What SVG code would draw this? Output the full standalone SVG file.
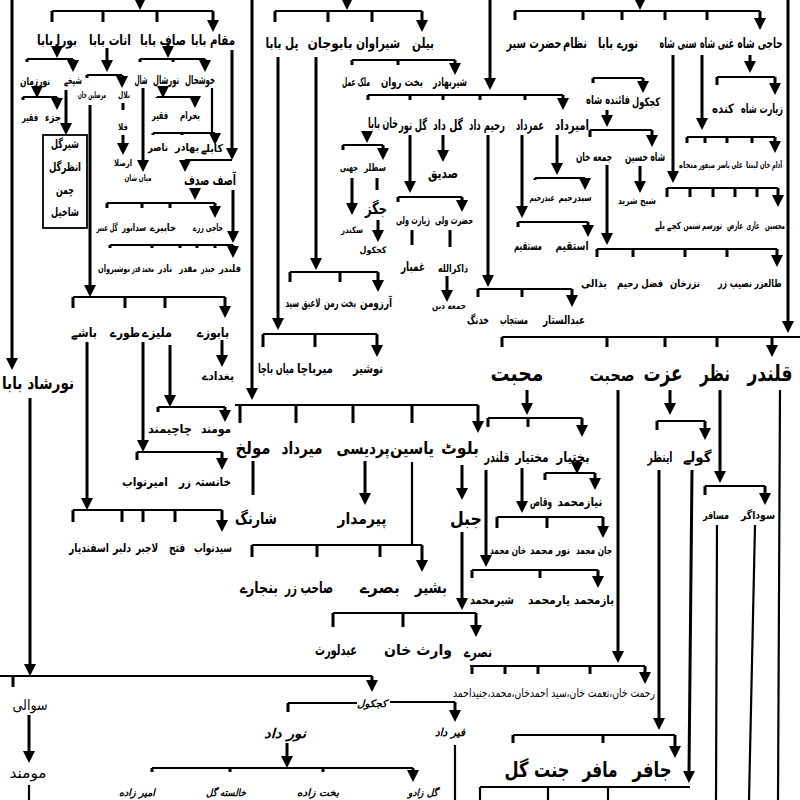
<svg xmlns="http://www.w3.org/2000/svg" width="800" height="800" viewBox="0 0 800 800">
<style>
.a{stroke:#000;stroke-width:3;fill:none;marker-end:url(#ah)}
.l{stroke:#000;stroke-width:2.2;fill:none}
.b{fill:none;stroke:#000;stroke-width:1.8}
text{font-family:"DejaVu Sans",sans-serif;font-weight:bold;text-anchor:middle;dominant-baseline:central;fill:#000}
.s9{font-size:9px}.s10{font-size:10px}.s11{font-size:11px}.s12{font-size:12px}.s13{font-size:13px}.s14{font-size:14px}.s15{font-size:15px}.s16{font-size:16px}.s17{font-size:17px}.s19{font-size:19px}.s21{font-size:21px}.s22{font-size:22px}
.n{font-weight:normal}.i{font-style:italic}
</style>
<defs>
<marker id="ah" viewBox="0 0 12 12" refX="2" refY="6" markerWidth="12" markerHeight="12" markerUnits="userSpaceOnUse" orient="auto"><path d="M0,0 L12,6 L0,12 z" fill="#000"/></marker>
</defs>
<rect width="800" height="800" fill="#fff"/>
<g id="connectors">
<path class="a" d="M140,-6 V0"/>
<path class="l" d="M52,11 H213"/>
<path class="a" d="M52,11 V22 M103,11 V22 M157,11 V22 M213,11 V22"/>
<path class="a" d="M12,0 V360"/>
<path class="a" d="M57,44 V48"/>
<path class="l" d="M27,59 H73"/>
<path class="a" d="M27,59 V62 M73,59 V62"/>
<path class="a" d="M37,86 V88"/>
<path class="l" d="M23,97 H57"/>
<path class="a" d="M23,97 V100 M57,97 V100"/>
<path class="a" d="M66,90 V125"/>
<path class="a" d="M107,48 V62"/>
<path class="l" d="M87,75 H122"/>
<path class="a" d="M87,75 V78 M122,75 V78"/>
<path class="a" d="M90,105 V287"/>
<path class="a" d="M123,103 V110 M123,135 V145"/>
<path class="a" d="M168,44 V48"/>
<path class="l" d="M140,59 H205"/>
<path class="a" d="M140,59 V62 M173,59 V62 M205,59 V62"/>
<path class="a" d="M143,88 V162"/>
<path class="a" d="M163,86 V88"/>
<path class="l" d="M157,97 H195"/>
<path class="a" d="M157,97 V98 M195,97 V98"/>
<path class="l" d="M212,88 V133 M153,133 H215"/>
<path class="a" d="M153,133 V135 M182,133 V135 M215,133 V135"/>
<path class="l" d="M185,160 H232"/>
<path class="a" d="M185,160 V162"/>
<path class="a" d="M232,50 V150"/>
<path class="a" d="M195,188 V190"/>
<path class="l" d="M107,203 H215"/>
<path class="a" d="M107,203 V208 M142,203 V208 M170,203 V208 M215,203 V208"/>
<path class="a" d="M233,190 V233"/>
<path class="l" d="M110,245 H233"/>
<path class="a" d="M110,245 V248 M152,245 V248 M180,245 V248 M197,245 V248 M215,245 V248 M233,245 V248"/>
<path class="l" d="M73,297 H225"/>
<path class="a" d="M73,297 V308 M125,297 V308 M165,297 V308 M225,297 V308"/>
<path class="a" d="M222,340 V357"/>
<path class="a" d="M170,345 V397"/>
<path class="l" d="M158,407 H225"/>
<path class="a" d="M158,407 V412 M225,407 V412"/>
<path class="a" d="M143,342 V442"/>
<path class="l" d="M137,452 H222"/>
<path class="a" d="M137,452 V460 M222,452 V460"/>
<path class="a" d="M87,342 V500"/>
<path class="l" d="M73,510 H222"/>
<path class="a" d="M73,510 V522 M122,510 V522 M143,510 V522 M175,510 V522 M222,510 V522"/>
<path class="a" d="M30,398 V666"/>
<path class="l" d="M0,676 H372"/>
<path class="a" d="M13,676 V687 M29,715 V753"/>
<path class="l" d="M29,785 V800"/>
<path class="a" d="M372,676 V682"/>
<path class="l" d="M288,703 H357 M390,702 H455"/>
<path class="a" d="M288,703 V712 M455,702 V712"/>
<path class="a" d="M287,743 V758"/>
<path class="l" d="M152,768 H413"/>
<path class="a" d="M152,768 V772 M230,768 V772 M323,768 V772 M413,768 V772"/>
<path class="l" d="M455,745 V800"/>
<path class="a" d="M347,-6 V0"/>
<path class="l" d="M275,11 H422"/>
<path class="a" d="M275,11 V22 M328,11 V22 M372,11 V22 M422,11 V22"/>
<path class="a" d="M252,0 V390"/>
<path class="a" d="M278,57 V320"/>
<path class="l" d="M263,334 H377"/>
<path class="a" d="M263,334 V347 M315,334 V347 M377,334 V347"/>
<path class="a" d="M316,57 V260"/>
<path class="l" d="M290,272 H378"/>
<path class="a" d="M290,272 V282 M340,272 V282 M378,272 V282"/>
<path class="l" d="M352,60 H455"/>
<path class="a" d="M352,60 V65 M398,60 V65 M455,60 V65"/>
<path class="a" d="M490,0 V80"/>
<path class="l" d="M368,95 H563"/>
<path class="a" d="M368,95 V100 M410,95 V100 M443,95 V100 M480,95 V100 M525,95 V100 M563,95 V100"/>
<path class="a" d="M367,131 V133"/>
<path class="l" d="M343,145 H383"/>
<path class="a" d="M343,145 V150 M383,145 V150"/>
<path class="a" d="M352,178 V205"/>
<path class="a" d="M377,178 V190 M378,220 V232"/>
<path class="a" d="M410,135 V183"/>
<path class="l" d="M398,197 H462"/>
<path class="a" d="M398,197 V202 M462,197 V202"/>
<path class="a" d="M412,230 V245 M450,230 V247 M447,276 V292"/>
<path class="a" d="M443,135 V152"/>
<path class="a" d="M488,135 V277"/>
<path class="l" d="M478,289 H572"/>
<path class="a" d="M478,289 V297 M522,289 V297 M572,289 V297"/>
<path class="a" d="M522,135 V208"/>
<path class="l" d="M518,222 H588"/>
<path class="a" d="M518,222 V227 M588,222 V227"/>
<path class="a" d="M557,135 V165"/>
<path class="l" d="M535,178 H585"/>
<path class="a" d="M535,178 V180 M585,178 V180"/>
<path class="a" d="M640,-6 V0"/>
<path class="l" d="M515,11 H760"/>
<path class="a" d="M515,11 V20 M583,11 V20 M622,11 V20 M665,11 V20 M707,11 V20 M760,11 V20"/>
<path class="l" d="M593,78 H643"/>
<path class="a" d="M593,78 V83 M643,78 V83"/>
<path class="a" d="M607,110 V117"/>
<path class="l" d="M590,130 H652"/>
<path class="a" d="M590,130 V137 M652,130 V137"/>
<path class="a" d="M640,166 V183"/>
<path class="a" d="M607,165 V235"/>
<path class="l" d="M597,249 H777"/>
<path class="a" d="M597,249 V257 M633,249 V257 M685,249 V257 M727,249 V257 M777,249 V257"/>
<path class="a" d="M673,55 V173"/>
<path class="l" d="M667,188 H778"/>
<path class="a" d="M667,188 V197 M690,188 V197 M713,188 V197 M735,188 V197 M757,188 V197 M778,188 V197"/>
<path class="a" d="M702,55 V120"/>
<path class="l" d="M687,137 H775"/>
<path class="a" d="M687,137 V143 M705,137 V143 M727,137 V143 M752,137 V143 M775,137 V143"/>
<path class="a" d="M750,55 V63"/>
<path class="l" d="M717,77 H775"/>
<path class="a" d="M717,77 V85 M775,77 V85"/>
<path class="a" d="M788,0 V323"/>
<path class="l" d="M502,337 H800"/>
<path class="a" d="M502,337 V347 M607,337 V347 M665,337 V347 M717,337 V347 M772,337 V347"/>
<path class="a" d="M527,390 V405"/>
<path class="l" d="M488,418 H582"/>
<path class="a" d="M488,418 V427 M528,418 V427 M582,418 V427"/>
<path class="l" d="M235,405 H478"/>
<path class="a" d="M240,405 V423 M296,405 V423 M353,405 V423 M412,405 V423 M478,405 V423"/>
<path class="a" d="M253,461 V495 M365,461 V495"/>
<path class="l" d="M412,462 V545 M252,545 H422"/>
<path class="a" d="M252,545 V557 M317,545 V557 M380,545 V557 M422,545 V562"/>
<path class="a" d="M462,465 V490"/>
<path class="a" d="M462,532 V600"/>
<path class="l" d="M333,613 H476"/>
<path class="a" d="M333,613 V627 M403,613 V627 M476,613 V627"/>
<path class="a" d="M486,470 V557"/>
<path class="l" d="M472,570 H598"/>
<path class="a" d="M472,570 V578 M540,570 V578 M598,570 V578"/>
<path class="a" d="M522,468 V503"/>
<path class="l" d="M497,517 H603"/>
<path class="a" d="M497,517 V528 M547,517 V528 M603,517 V528"/>
<path class="a" d="M577,462 V464"/>
<path class="l" d="M545,473 H595"/>
<path class="a" d="M545,473 V480 M595,473 V480"/>
<path class="a" d="M618,390 V653"/>
<path class="l" d="M470,666 H645"/>
<path class="a" d="M472,666 V674 M505,666 V674 M538,666 V674 M590,666 V674 M645,666 V674"/>
<path class="a" d="M670,390 V405"/>
<path class="l" d="M657,421 H705"/>
<path class="a" d="M657,421 V430 M705,421 V430"/>
<path class="a" d="M659,470 V720"/>
<path class="l" d="M513,735 H675"/>
<path class="a" d="M513,735 V743 M603,735 V743 M675,735 V748"/>
<path class="a" d="M692,470 L689,773"/>
<path class="l" d="M480,787 H690 M480,787 V800 M548,787 V800 M608,787 V800"/>
<path class="a" d="M720,390 V473"/>
<path class="l" d="M705,486 H765"/>
<path class="a" d="M705,486 V495 M765,486 V495"/>
<path class="l" d="M717,525 L716,800 M755,525 L749,800 M780,390 L778,800"/>
</g>
<g id="n-bora-baba"><text class="s14" x="57" y="40" textLength="40" lengthAdjust="spacingAndGlyphs">بورا بابا</text></g>
<g id="n-anat-baba"><text class="s14" x="110" y="40" textLength="42" lengthAdjust="spacingAndGlyphs">انات بابا</text></g>
<g id="n-saf-baba"><text class="s14" x="163" y="40" textLength="46" lengthAdjust="spacingAndGlyphs">صاف بابا</text></g>
<g id="n-maqam-baba"><text class="s14" x="213" y="40" textLength="44" lengthAdjust="spacingAndGlyphs">مقام بابا</text></g>
<g id="n-noorzaman"><text class="s11" x="35" y="81" textLength="30" lengthAdjust="spacingAndGlyphs">نورزمان</text></g>
<g id="n-shaikhe"><text class="s11" x="73" y="80" textLength="18" lengthAdjust="spacingAndGlyphs">شیخے</text></g>
<g id="n-faqir1"><text class="s11" x="30" y="117" textLength="16" lengthAdjust="spacingAndGlyphs">فقیر</text></g>
<g id="n-jaza"><text class="s11" x="53" y="117" textLength="16" lengthAdjust="spacingAndGlyphs">جزء</text></g>
<g id="n-box"><rect class="b" x="43" y="135" width="44" height="93"/><text class="s12" x="65" y="144" textLength="28" lengthAdjust="spacingAndGlyphs">شیرگل</text><text class="s12" x="65" y="167" textLength="32" lengthAdjust="spacingAndGlyphs">انظرگل</text><text class="s12" x="65" y="190" textLength="18" lengthAdjust="spacingAndGlyphs">چمن</text><text class="s12" x="65" y="212" textLength="28" lengthAdjust="spacingAndGlyphs">شاخیل</text></g>
<g id="n-mursalin"><text class="s9" x="92" y="95" textLength="28" lengthAdjust="spacingAndGlyphs">مرسلین خان</text></g>
<g id="n-bilal"><text class="s9" x="124" y="95" textLength="12" lengthAdjust="spacingAndGlyphs">بلال</text></g>
<g id="n-qala"><text class="s9" x="123" y="127" textLength="10" lengthAdjust="spacingAndGlyphs">قلا</text></g>
<g id="n-arsala"><text class="s9" x="123" y="163" textLength="18" lengthAdjust="spacingAndGlyphs">ارصلا</text></g>
<g id="n-shal"><text class="s12" x="141" y="80" textLength="13" lengthAdjust="spacingAndGlyphs">شال</text></g>
<g id="n-noorshal"><text class="s12" x="166" y="80" textLength="26" lengthAdjust="spacingAndGlyphs">نورشال</text></g>
<g id="n-khushal"><text class="s12" x="200" y="80" textLength="30" lengthAdjust="spacingAndGlyphs">خوشحال</text></g>
<g id="n-mianshan"><text class="s9" x="138" y="178" textLength="27" lengthAdjust="spacingAndGlyphs">میاں شان</text></g>
<g id="n-faqir2"><text class="s11" x="160" y="115" textLength="16" lengthAdjust="spacingAndGlyphs">فقیر</text></g>
<g id="n-bahram"><text class="s11" x="190" y="115" textLength="20" lengthAdjust="spacingAndGlyphs">بحرام</text></g>
<g id="n-nasir"><text class="s11" x="158" y="147" textLength="20" lengthAdjust="spacingAndGlyphs">ناصر</text></g>
<g id="n-bahadur"><text class="s11" x="187" y="147" textLength="24" lengthAdjust="spacingAndGlyphs">بهادر</text></g>
<g id="n-kable"><text class="s11" x="212" y="148" textLength="22" lengthAdjust="spacingAndGlyphs">کابلے</text></g>
<g id="n-asif"><text class="s14" x="210" y="180" textLength="52" lengthAdjust="spacingAndGlyphs">آصف صدف</text></g>
<g id="n-gulanbar"><text class="s10" x="107" y="227" textLength="21" lengthAdjust="spacingAndGlyphs">گل عنبر</text></g>
<g id="n-sadatoor"><text class="s10" x="134" y="227" textLength="24" lengthAdjust="spacingAndGlyphs">سداتور</text></g>
<g id="n-khapire"><text class="s10" x="163" y="227" textLength="26" lengthAdjust="spacingAndGlyphs">خاپیرے</text></g>
<g id="n-hajizare"><text class="s10" x="208" y="227" textLength="30" lengthAdjust="spacingAndGlyphs">حاجی زرے</text></g>
<g id="n-nosherwan"><text class="s10" x="114" y="268" textLength="32" lengthAdjust="spacingAndGlyphs">نوشیروان</text></g>
<g id="n-mqadar"><text class="s10" x="143" y="268" textLength="22" lengthAdjust="spacingAndGlyphs">محمد قدر</text></g>
<g id="n-nadir"><text class="s10" x="165" y="268" textLength="14" lengthAdjust="spacingAndGlyphs">نادر</text></g>
<g id="n-muqadar"><text class="s10" x="188" y="268" textLength="18" lengthAdjust="spacingAndGlyphs">مقدر</text></g>
<g id="n-jaidar"><text class="s10" x="208" y="268" textLength="14" lengthAdjust="spacingAndGlyphs">جیدر</text></g>
<g id="n-qalandar1"><text class="s10" x="230" y="268" textLength="22" lengthAdjust="spacingAndGlyphs">قلندر</text></g>
<g id="n-bashe"><text class="s13" x="84" y="332" textLength="26" lengthAdjust="spacingAndGlyphs">باشے</text></g>
<g id="n-toore"><text class="s13" x="125" y="332" textLength="30" lengthAdjust="spacingAndGlyphs">طورے</text></g>
<g id="n-malize"><text class="s13" x="157" y="332" textLength="30" lengthAdjust="spacingAndGlyphs">ملیزے</text></g>
<g id="n-babuze"><text class="s13" x="213" y="332" textLength="32" lengthAdjust="spacingAndGlyphs">بابوزے</text></g>
<g id="n-baghdade"><text class="s12" x="218" y="376" textLength="32" lengthAdjust="spacingAndGlyphs">بغدادے</text></g>
<g id="n-chachimand"><text class="s12" x="170" y="429" textLength="44" lengthAdjust="spacingAndGlyphs">چاچیمند</text></g>
<g id="n-momand1"><text class="s12" x="216" y="429" textLength="30" lengthAdjust="spacingAndGlyphs">مومند</text></g>
<g id="n-amirnawab"><text class="s12" x="145" y="482" textLength="46" lengthAdjust="spacingAndGlyphs">امیرنواب</text></g>
<g id="n-khanistazar"><text class="s12" x="205" y="482" textLength="52" lengthAdjust="spacingAndGlyphs">خانستہ زر</text></g>
<g id="n-isfandyar"><text class="s12" x="89" y="548" textLength="40" lengthAdjust="spacingAndGlyphs">اسفندیار</text></g>
<g id="n-dilbar"><text class="s12" x="122" y="548" textLength="18" lengthAdjust="spacingAndGlyphs">دلبر</text></g>
<g id="n-lajbar"><text class="s12" x="147" y="548" textLength="22" lengthAdjust="spacingAndGlyphs">لاجبر</text></g>
<g id="n-fatah"><text class="s12" x="177" y="548" textLength="16" lengthAdjust="spacingAndGlyphs">فتح</text></g>
<g id="n-sayednawab"><text class="s12" x="213" y="548" textLength="38" lengthAdjust="spacingAndGlyphs">سیدنواب</text></g>
<g id="n-noorshad"><text class="s17" x="38" y="383" textLength="72" lengthAdjust="spacingAndGlyphs">نورشاد بابا</text></g>
<g id="n-sawali"><text class="s15 n" x="30" y="705" textLength="35" lengthAdjust="spacingAndGlyphs">سوالی</text></g>
<g id="n-momand2"><text class="s15 n" x="28" y="773" textLength="37" lengthAdjust="spacingAndGlyphs">مومند</text></g>
<g id="n-kachkol3"><text class="s10 i" x="372" y="703" textLength="30" lengthAdjust="spacingAndGlyphs">کجکول</text></g>
<g id="n-noordad"><text class="s13 i" x="285" y="733" textLength="42" lengthAdjust="spacingAndGlyphs">نور داد</text></g>
<g id="n-firdad"><text class="s11 i" x="450" y="732" textLength="30" lengthAdjust="spacingAndGlyphs">فیر داد</text></g>
<g id="n-amirzada"><text class="s10 i" x="137" y="792" textLength="36" lengthAdjust="spacingAndGlyphs">امیر زاده</text></g>
<g id="n-khalistagul"><text class="s10 i" x="226" y="792" textLength="40" lengthAdjust="spacingAndGlyphs">خالسته گل</text></g>
<g id="n-bakhtzada"><text class="s10 i" x="318" y="792" textLength="42" lengthAdjust="spacingAndGlyphs">بخت زاده</text></g>
<g id="n-gulzado"><text class="s10 i" x="423" y="792" textLength="30" lengthAdjust="spacingAndGlyphs">گل زادو</text></g>
<g id="n-pilbaba"><text class="s14" x="282" y="43" textLength="33" lengthAdjust="spacingAndGlyphs">پل بابا</text></g>
<g id="n-babujan"><text class="s14" x="330" y="43" textLength="45" lengthAdjust="spacingAndGlyphs">بابوجان</text></g>
<g id="n-sherawan"><text class="s14" x="378" y="43" textLength="44" lengthAdjust="spacingAndGlyphs">شیراوان</text></g>
<g id="n-bilan"><text class="s14" x="423" y="43" textLength="22" lengthAdjust="spacingAndGlyphs">بیلن</text></g>
<g id="n-mianbacha"><text class="s13" x="276" y="368" textLength="36" lengthAdjust="spacingAndGlyphs">میاں باچا</text></g>
<g id="n-mirbacha"><text class="s13" x="315" y="368" textLength="36" lengthAdjust="spacingAndGlyphs">میرباچا</text></g>
<g id="n-nosher"><text class="s13" x="368" y="368" textLength="30" lengthAdjust="spacingAndGlyphs">نوشیر</text></g>
<g id="n-laiqsayed"><text class="s12" x="303" y="303" textLength="35" lengthAdjust="spacingAndGlyphs">لاعیق سید</text></g>
<g id="n-bakhtraman"><text class="s12" x="340" y="303" textLength="32" lengthAdjust="spacingAndGlyphs">بخت رمن</text></g>
<g id="n-arzoman"><text class="s12" x="376" y="303" textLength="32" lengthAdjust="spacingAndGlyphs">آرزومن</text></g>
<g id="n-malikamal"><text class="s12" x="356" y="82" textLength="28" lengthAdjust="spacingAndGlyphs">ملک عمل</text></g>
<g id="n-bakhtrawan"><text class="s12" x="402" y="82" textLength="42" lengthAdjust="spacingAndGlyphs">بخت روان</text></g>
<g id="n-sherbahadar"><text class="s12" x="450" y="82" textLength="34" lengthAdjust="spacingAndGlyphs">شیربهادر</text></g>
<g id="n-khanbaba"><text class="s14" x="383" y="123" textLength="30" lengthAdjust="spacingAndGlyphs">خان بابا</text></g>
<g id="n-gulnoor"><text class="s14" x="413" y="125" textLength="28" lengthAdjust="spacingAndGlyphs">گل نور</text></g>
<g id="n-guldad"><text class="s14" x="448" y="125" textLength="30" lengthAdjust="spacingAndGlyphs">گل داد</text></g>
<g id="n-rahimdad"><text class="s14" x="487" y="125" textLength="36" lengthAdjust="spacingAndGlyphs">رحیم داد</text></g>
<g id="n-umardad"><text class="s14" x="530" y="125" textLength="28" lengthAdjust="spacingAndGlyphs">عمرداد</text></g>
<g id="n-amirdad"><text class="s14" x="572" y="125" textLength="34" lengthAdjust="spacingAndGlyphs">امیرداد</text></g>
<g id="n-jahni"><text class="s10" x="349" y="167" textLength="18" lengthAdjust="spacingAndGlyphs">جهنی</text></g>
<g id="n-satlar"><text class="s10" x="375" y="167" textLength="22" lengthAdjust="spacingAndGlyphs">سطلر</text></g>
<g id="n-sikandar"><text class="s9" x="352" y="230" textLength="22" lengthAdjust="spacingAndGlyphs">سکندر</text></g>
<g id="n-jagaz"><text class="s16" x="376" y="208" textLength="22" lengthAdjust="spacingAndGlyphs">جگز</text></g>
<g id="n-kachkol2"><text class="s9" x="373" y="250" textLength="27" lengthAdjust="spacingAndGlyphs">کجکول</text></g>
<g id="n-ziaratwali"><text class="s11" x="413" y="220" textLength="34" lengthAdjust="spacingAndGlyphs">زیارت ولی</text></g>
<g id="n-hazratwali"><text class="s11" x="454" y="220" textLength="38" lengthAdjust="spacingAndGlyphs">حضرت ولی</text></g>
<g id="n-ghambar"><text class="s13" x="413" y="266" textLength="24" lengthAdjust="spacingAndGlyphs">غمبار</text></g>
<g id="n-zakirullah"><text class="s11" x="453" y="268" textLength="30" lengthAdjust="spacingAndGlyphs">ذاکرالله</text></g>
<g id="n-jumadin"><text class="s9" x="449" y="306" textLength="34" lengthAdjust="spacingAndGlyphs">جمعه دین</text></g>
<g id="n-sadiq"><text class="s14" x="443" y="173" textLength="30" lengthAdjust="spacingAndGlyphs">صدیق</text></g>
<g id="n-khadang"><text class="s12" x="478" y="320" textLength="22" lengthAdjust="spacingAndGlyphs">خدنگ</text></g>
<g id="n-mustajab"><text class="s12" x="514" y="320" textLength="28" lengthAdjust="spacingAndGlyphs">مستجاب</text></g>
<g id="n-abdulsattar"><text class="s12" x="564" y="320" textLength="42" lengthAdjust="spacingAndGlyphs">عبدالستار</text></g>
<g id="n-mustaqim"><text class="s12" x="528" y="246" textLength="28" lengthAdjust="spacingAndGlyphs">مستقیم</text></g>
<g id="n-istaqim"><text class="s12" x="572" y="246" textLength="33" lengthAdjust="spacingAndGlyphs">استقیم</text></g>
<g id="n-abdurrahim"><text class="s10" x="542" y="197" textLength="25" lengthAdjust="spacingAndGlyphs">عبدرحیم</text></g>
<g id="n-sayedrahim"><text class="s10" x="575" y="197" textLength="33" lengthAdjust="spacingAndGlyphs">سیدرحیم</text></g>
<g id="n-hazratsair"><text class="s14" x="534" y="43" textLength="55" lengthAdjust="spacingAndGlyphs">حضرت سیر</text></g>
<g id="n-nizam"><text class="s14" x="575" y="43" textLength="24" lengthAdjust="spacingAndGlyphs">نظام</text></g>
<g id="n-noorebaba"><text class="s14" x="618" y="43" textLength="40" lengthAdjust="spacingAndGlyphs">نورے بابا</text></g>
<g id="n-sunishah"><text class="s14" x="678" y="43" textLength="37" lengthAdjust="spacingAndGlyphs">سنی شاه</text></g>
<g id="n-ghanishah"><text class="s14" x="717" y="43" textLength="34" lengthAdjust="spacingAndGlyphs">غنی شاه</text></g>
<g id="n-hajishah"><text class="s14" x="760" y="43" textLength="45" lengthAdjust="spacingAndGlyphs">حاجی شاه</text></g>
<g id="n-faindashah"><text class="s12" x="608" y="100" textLength="44" lengthAdjust="spacingAndGlyphs">فائنده شاه</text></g>
<g id="n-kachkol1"><text class="s12" x="646" y="102" textLength="28" lengthAdjust="spacingAndGlyphs">کجکول</text></g>
<g id="n-jumakhan"><text class="s12" x="594" y="157" textLength="36" lengthAdjust="spacingAndGlyphs">جمعه خان</text></g>
<g id="n-shahhussain"><text class="s12" x="645" y="157" textLength="40" lengthAdjust="spacingAndGlyphs">شاه حسین</text></g>
<g id="n-shaikhsharid"><text class="s10" x="637" y="200" textLength="38" lengthAdjust="spacingAndGlyphs">شیخ شرید</text></g>
<g id="n-bazali"><text class="s11" x="594" y="283" textLength="26" lengthAdjust="spacingAndGlyphs">بذالی</text></g>
<g id="n-fazalrahim"><text class="s11" x="640" y="283" textLength="46" lengthAdjust="spacingAndGlyphs">فضل رحیم</text></g>
<g id="n-nazarkhan"><text class="s11" x="685" y="283" textLength="30" lengthAdjust="spacingAndGlyphs">نزرخان</text></g>
<g id="n-nasibzar"><text class="s11" x="735" y="283" textLength="34" lengthAdjust="spacingAndGlyphs">نصیب زر</text></g>
<g id="n-talizar"><text class="s11" x="768" y="283" textLength="27" lengthAdjust="spacingAndGlyphs">طالعزر</text></g>
<g id="n-kachebale"><text class="s10" x="668" y="225" textLength="26" lengthAdjust="spacingAndGlyphs">کچے بلے</text></g>
<g id="n-shatman"><text class="s10" x="692" y="225" textLength="17" lengthAdjust="spacingAndGlyphs">شتمن</text></g>
<g id="n-torsam"><text class="s10" x="712" y="225" textLength="20" lengthAdjust="spacingAndGlyphs">تورسم</text></g>
<g id="n-aariz"><text class="s10" x="735" y="225" textLength="16" lengthAdjust="spacingAndGlyphs">عارض</text></g>
<g id="n-ghazi"><text class="s10" x="753" y="225" textLength="13" lengthAdjust="spacingAndGlyphs">غازی</text></g>
<g id="n-mohsin"><text class="s10" x="775" y="225" textLength="20" lengthAdjust="spacingAndGlyphs">محسین</text></g>
<g id="n-manjah"><text class="s9" x="688" y="165" textLength="18" lengthAdjust="spacingAndGlyphs">منجاه</text></g>
<g id="n-saifoor"><text class="s9" x="707" y="165" textLength="16" lengthAdjust="spacingAndGlyphs">صیفور</text></g>
<g id="n-aliyasir"><text class="s9" x="730" y="165" textLength="25" lengthAdjust="spacingAndGlyphs">علی یاسر</text></g>
<g id="n-linta"><text class="s9" x="752" y="165" textLength="12" lengthAdjust="spacingAndGlyphs">لینتا</text></g>
<g id="n-adamkhan"><text class="s9" x="771" y="165" textLength="22" lengthAdjust="spacingAndGlyphs">آدام خان</text></g>
<g id="n-kanda"><text class="s13" x="723" y="108" textLength="22" lengthAdjust="spacingAndGlyphs">کنده</text></g>
<g id="n-ziaratshah"><text class="s13" x="762" y="108" textLength="42" lengthAdjust="spacingAndGlyphs">زیارت شاه</text></g>
<g id="n-muhabbat"><text class="s22" x="517" y="373" textLength="53" lengthAdjust="spacingAndGlyphs">محبت</text></g>
<g id="n-sohbat"><text class="s17" x="612" y="375" textLength="45" lengthAdjust="spacingAndGlyphs">صحبت</text></g>
<g id="n-izzat"><text class="s22" x="663" y="373" textLength="39" lengthAdjust="spacingAndGlyphs">عزت</text></g>
<g id="n-nazar"><text class="s22" x="715" y="373" textLength="30" lengthAdjust="spacingAndGlyphs">نظر</text></g>
<g id="n-qalandar2"><text class="s22" x="770" y="373" textLength="45" lengthAdjust="spacingAndGlyphs">قلندر</text></g>
<g id="n-qalandar3"><text class="s14" x="497" y="457" textLength="25" lengthAdjust="spacingAndGlyphs">قلندر</text></g>
<g id="n-mukhtiar"><text class="s14" x="532" y="457" textLength="33" lengthAdjust="spacingAndGlyphs">مختیار</text></g>
<g id="n-bakhtiar"><text class="s14" x="573" y="457" textLength="33" lengthAdjust="spacingAndGlyphs">بختیار</text></g>
<g id="n-mulakh"><text class="s17" x="253" y="448" textLength="35" lengthAdjust="spacingAndGlyphs">مولخ</text></g>
<g id="n-mirdad"><text class="s17" x="302" y="448" textLength="41" lengthAdjust="spacingAndGlyphs">میرداد</text></g>
<g id="n-pardesi"><text class="s17" x="363" y="448" textLength="53" lengthAdjust="spacingAndGlyphs">پردیسی</text></g>
<g id="n-yasin"><text class="s17" x="412" y="448" textLength="44" lengthAdjust="spacingAndGlyphs">یاسین</text></g>
<g id="n-baloot"><text class="s17" x="460" y="448" textLength="38" lengthAdjust="spacingAndGlyphs">بلوٹ</text></g>
<g id="n-sharang"><text class="s16" x="256" y="518" textLength="42" lengthAdjust="spacingAndGlyphs">شارنگ</text></g>
<g id="n-pirmadar"><text class="s16" x="362" y="518" textLength="49" lengthAdjust="spacingAndGlyphs">پیرمدار</text></g>
<g id="n-jabal"><text class="s19" x="466" y="518" textLength="32" lengthAdjust="spacingAndGlyphs">جبل</text></g>
<g id="n-banjare"><text class="s16" x="259" y="587" textLength="38" lengthAdjust="spacingAndGlyphs">بنجارے</text></g>
<g id="n-sahibzar"><text class="s16" x="309" y="587" textLength="48" lengthAdjust="spacingAndGlyphs">صاحب زر</text></g>
<g id="n-basre"><text class="s16" x="380" y="587" textLength="40" lengthAdjust="spacingAndGlyphs">بصرے</text></g>
<g id="n-bashir"><text class="s16" x="431" y="587" textLength="32" lengthAdjust="spacingAndGlyphs">بشیر</text></g>
<g id="n-abdulwaris"><text class="s15" x="336" y="650" textLength="42" lengthAdjust="spacingAndGlyphs">عبدلورث</text></g>
<g id="n-wariskhan"><text class="s15" x="418" y="650" textLength="68" lengthAdjust="spacingAndGlyphs">وارث خان</text></g>
<g id="n-nasre"><text class="s15" x="478" y="652" textLength="28" lengthAdjust="spacingAndGlyphs">نصرے</text></g>
<g id="n-shermuhammad"><text class="s12" x="492" y="600" textLength="44" lengthAdjust="spacingAndGlyphs">شیرمحمد</text></g>
<g id="n-yarmuhammad"><text class="s12" x="549" y="600" textLength="42" lengthAdjust="spacingAndGlyphs">یارمحمد</text></g>
<g id="n-bazmuhammad"><text class="s12" x="594" y="600" textLength="40" lengthAdjust="spacingAndGlyphs">بازمحمد</text></g>
<g id="n-khanmuhammad"><text class="s11" x="508" y="550" textLength="36" lengthAdjust="spacingAndGlyphs">خان محمد</text></g>
<g id="n-noormuhammad"><text class="s11" x="550" y="550" textLength="40" lengthAdjust="spacingAndGlyphs">نور محمد</text></g>
<g id="n-janmuhammad"><text class="s11" x="594" y="550" textLength="36" lengthAdjust="spacingAndGlyphs">جان محمد</text></g>
<g id="n-waqas"><text class="s12" x="541" y="502" textLength="22" lengthAdjust="spacingAndGlyphs">وقاص</text></g>
<g id="n-niazmuhammad"><text class="s12" x="580" y="502" textLength="45" lengthAdjust="spacingAndGlyphs">نیازمحمد</text></g>
<g id="n-rahmatkhan"><text class="s12 n" x="554" y="693" textLength="202" lengthAdjust="spacingAndGlyphs">رحمت خان،نعمت خان،سید احمدخان،محمد،جنیداحمد</text></g>
<g id="n-inzar"><text class="s14" x="660" y="457" textLength="25" lengthAdjust="spacingAndGlyphs">اینظر</text></g>
<g id="n-gole"><text class="s14" x="697" y="457" textLength="29" lengthAdjust="spacingAndGlyphs">گولے</text></g>
<g id="n-jannatgul"><text class="s21" x="537" y="770" textLength="65" lengthAdjust="spacingAndGlyphs">جنت گل</text></g>
<g id="n-mafar"><text class="s21" x="600" y="770" textLength="35" lengthAdjust="spacingAndGlyphs">مافر</text></g>
<g id="n-jafar"><text class="s21" x="652" y="770" textLength="39" lengthAdjust="spacingAndGlyphs">جافر</text></g>
<g id="n-musafir"><text class="s11" x="716" y="515" textLength="26" lengthAdjust="spacingAndGlyphs">مسافر</text></g>
<g id="n-saudagar"><text class="s11" x="758" y="515" textLength="34" lengthAdjust="spacingAndGlyphs">سوداگر</text></g>
</svg>
